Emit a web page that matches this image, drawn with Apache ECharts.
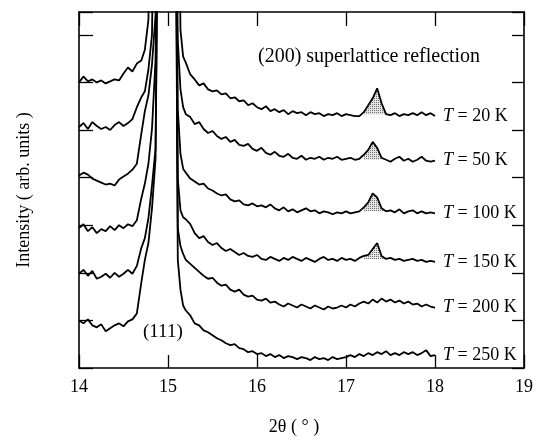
<!DOCTYPE html>
<html><head><meta charset="utf-8">
<script src="https://cdn.jsdelivr.net/npm/echarts@6/dist/echarts.min.js"></script>
<style>html,body{margin:0;padding:0;background:#fff}#c{width:536px;height:441px}</style>
</head><body><div id="c"></div>
<script>
// 2θ sample positions (degrees)
const twoTheta = [
14.00,14.05,14.10,14.15,14.20,14.25,14.30,14.35,14.40,14.45,14.50,14.55,14.60,14.65,14.70,
14.74,14.78,14.82,14.86,14.90,
15.08,15.11,15.14,15.17,
15.20,15.25,15.30,15.35,15.40,15.45,15.50,15.55,15.60,15.65,15.70,15.75,15.80,15.85,15.90,15.95,
16.00,16.05,16.10,16.15,16.20,16.25,16.30,16.35,16.40,16.45,16.50,16.55,16.60,16.65,16.70,16.75,16.80,16.85,16.90,16.95,
17.00,17.05,17.10,17.15,17.20,17.25,17.30,17.35,17.40,17.45,17.50,17.55,17.60,17.65,17.70,17.75,17.80,17.85,17.90,17.95,
18.00];

const tempLabels = ['20','50','100','150','200','250'];

// intensities (arb. units, curves offset vertically); 600 = off scale ((111) peak)
const i20 = [
288,294,289,291,288,290,287,289,291,290,297,303,299,307,310,
321,351,600,600,600,
600,600,341,314,
308,296,291,285,287,281,279,280,276,277,272,273,269,270,265,267,
263,261,264,259,261,258,260,256,259,257,258,255,258,256,257,254,256,255,257,254,
256,255,254,254,258,265,272,282,267,256,255,257,254,256,255,257,255,258,255,257,
254];
const i50 = [
243,247,241,248,244,241,243,240,245,248,244,247,251,263,273,
279,301,336,600,600,
600,331,281,263,
256,253,246,248,241,237,239,234,231,233,228,230,225,224,226,221,
219,222,217,215,218,214,213,216,212,211,214,210,212,211,213,210,212,211,213,210,
211,212,210,211,215,220,228,222,212,210,208,211,213,209,211,208,210,213,209,208,
209];
const i100 = [
194,197,195,191,189,187,185,186,184,190,193,196,200,206,236,
259,275,306,356,600,
600,261,216,201,
197,191,188,185,186,181,179,176,174,175,170,168,169,165,164,166,
163,164,162,165,161,159,162,158,160,157,159,161,158,159,156,158,157,155,157,156,
158,156,157,158,162,167,176,172,161,158,159,157,160,156,158,159,156,158,156,157,
156];
const i150 = [
141,145,138,142,136,140,138,143,139,144,141,145,143,149,171,
186,206,241,311,600,
600,191,159,152,
150,145,136,131,133,127,124,126,121,118,120,117,114,116,113,112,
114,110,109,112,110,108,111,109,112,110,108,111,109,107,110,112,109,110,108,111,
109,110,108,111,113,114,120,126,113,110,111,109,110,108,109,110,108,109,107,108,
107];
const i200 = [
95,99,93,98,90,92,95,91,96,92,95,99,95,103,121,
131,151,184,221,600,
600,141,123,115,
109,105,101,97,93,90,91,86,83,84,79,77,79,74,72,73,
69,68,70,66,67,64,62,65,63,61,64,62,60,63,61,59,62,60,61,63,
61,64,62,65,67,65,69,66,70,67,69,66,68,65,67,64,65,62,64,62,
61];
const i250 = [
48,45,49,43,41,44,37,40,43,45,42,47,49,55,86,
109,126,161,211,600,
600,109,79,63,
58,53,45,43,38,36,33,30,28,25,23,24,20,19,16,17,
14,15,12,14,11,13,10,12,11,9,11,10,8,11,9,10,8,11,9,10,
11,13,11,14,12,15,13,16,14,17,13,15,13,16,14,16,13,15,18,12,
13];

// (200) superlattice peak: background level under each shaded peak, and 2θ range
const peakBase = [256, 210, 158, 110];
const peakRange = [17.20, 17.45];

const curves = [i20, i50, i100, i150, i200, i250];

// stipple pattern for shaded peaks
const pc = document.createElement('canvas');
pc.width = 2; pc.height = 2;
const g = pc.getContext('2d');
g.fillStyle = '#e4e4e4'; g.fillRect(0,0,2,2);
g.fillStyle = '#707070'; g.fillRect(0,0,1,1);

const FONT = 'Liberation Serif';
const series = [];
curves.forEach((c, k) => {
  const pts = twoTheta.map((x, i) => [x, c[i]]);
  if (k < peakBase.length) {
    series.push({
      type: 'line', silent: true, symbol: 'none', z: 1, animation: false,
      data: pts.filter(p => p[0] >= peakRange[0] - 1e-9 && p[0] <= peakRange[1] + 1e-9),
      lineStyle: { width: 0, opacity: 0 },
      areaStyle: { origin: peakBase[k], color: { image: pc, repeat: 'repeat' }, opacity: 1 }
    });
  }
  series.push({
    type: 'line', name: 'T = ' + tempLabels[k] + ' K', symbol: 'none', z: 2, animation: false,
    data: pts,
    lineStyle: { color: '#000', width: 1.8 },
    endLabel: {
      show: true, distance: 8, color: '#000', fontFamily: FONT, fontSize: 18,
      formatter: () => '{i|T} = ' + tempLabels[k] + ' K',
      rich: { i: { fontStyle: 'italic', fontFamily: FONT, fontSize: 18, color: '#000' } }
    }
  });
});

const axLine = { show: true, onZero: false, lineStyle: { color: '#000', width: 1.6 } };
const chart = echarts.init(document.getElementById('c'), null, { renderer: 'canvas' });
chart.setOption({
  animation: false,
  grid: { left: 79, right: 8, top: 12, bottom: 70 },
  xAxis: [
    { type: 'value', min: 14, max: 19, interval: 1, position: 'bottom',
      axisLine: axLine, splitLine: { show: false },
      axisTick: { inside: true, length: 13, lineStyle: { color: '#000', width: 1.3 } },
      axisLabel: { color: '#000', fontFamily: FONT, fontSize: 18, margin: 10 },
      name: '2θ ( ° )', nameLocation: 'middle', nameGap: 50,
      nameTextStyle: { color: '#000', fontFamily: FONT, fontSize: 18, padding: [0, 15, 0, 0] } },
    { type: 'value', min: 14, max: 19, interval: 1, position: 'top',
      axisLine: axLine, splitLine: { show: false },
      axisTick: { inside: true, length: 14, lineStyle: { color: '#000', width: 1.3 } },
      axisLabel: { show: false } }
  ],
  yAxis: [
    { type: 'value', min: 0, max: 359, interval: 48, position: 'left',
      axisLine: axLine, splitLine: { show: false },
      axisTick: { inside: true, length: 14, lineStyle: { color: '#000', width: 1.3 } },
      axisLabel: { show: false },
      name: 'Intensity ( arb. units )', nameLocation: 'middle', nameGap: 46,
      nameTextStyle: { color: '#000', fontFamily: FONT, fontSize: 18 } },
    { type: 'value', min: 0, max: 359, interval: 48, position: 'right',
      axisLine: axLine, splitLine: { show: false },
      axisTick: { inside: true, length: 12, lineStyle: { color: '#000', width: 1.3 } },
      axisLabel: { show: false } }
  ],
  graphic: [
    { type: 'text', left: 258, top: 47, style: { text: '(200) superlattice reflection', font: '20px "Liberation Serif"', fill: '#000' } },
    { type: 'text', left: 143, top: 323, style: { text: '(111)', font: '19px "Liberation Serif"', fill: '#000' } }
  ],
  series: series
});
</script>
</body></html>
